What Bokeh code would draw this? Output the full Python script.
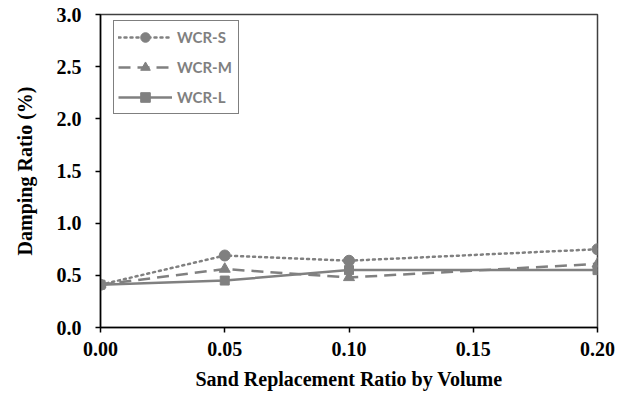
from bokeh.plotting import figure
from bokeh.models import Range1d, FixedTicker, Legend, LegendItem
from bokeh.embed import file_html
from bokeh.resources import INLINE

ratios = [0.00, 0.05, 0.10, 0.20]
wcr_s = [0.41, 0.69, 0.64, 0.75]
wcr_m = [0.41, 0.56, 0.48, 0.61]
wcr_l = [0.41, 0.45, 0.55, 0.55]
x_ticks = [0.00, 0.05, 0.10, 0.15, 0.20]
y_ticks = [0.0, 0.5, 1.0, 1.5, 2.0, 2.5, 3.0]

GRAY = "#808080"
SERIF = "Liberation Serif"

p = figure(width=632, height=394, output_backend="svg", toolbar_location=None,
           x_range=Range1d(0, 0.2), y_range=Range1d(0, 3.0),
           min_border_left=100, min_border_right=35, min_border_top=14, min_border_bottom=67)
p.grid.visible = False
p.outline_line_color = "#404040"
p.outline_line_width = 1.5

rs_l = p.line(ratios, wcr_s, line_color=GRAY, line_width=2.5, line_dash="2 4", line_cap="round")
rs_m = p.scatter(ratios, wcr_s, marker="circle", size=11, fill_color=GRAY, line_color=GRAY)
rm_l = p.line(ratios, wcr_m, line_color=GRAY, line_width=2.5, line_dash="12 7")
rm_m = p.scatter(ratios, wcr_m, marker="triangle", size=11, fill_color=GRAY, line_color=GRAY)
rl_l = p.line(ratios, wcr_l, line_color=GRAY, line_width=2.5)
rl_m = p.scatter(ratios, wcr_l, marker="square", size=9, fill_color=GRAY, line_color=GRAY)

for ax in (p.xaxis[0], p.yaxis[0]):
    ax.axis_line_color = "black"
    ax.axis_line_width = 1.5
    ax.major_tick_line_color = "black"
    ax.major_tick_line_width = 1.5
    ax.major_tick_out = 5
    ax.major_tick_in = 0
    ax.minor_tick_line_color = None
    ax.major_label_text_font = SERIF
    ax.major_label_text_font_style = "bold"
    ax.major_label_text_font_size = "20px"
    ax.major_label_text_color = "black"
    ax.axis_label_text_font = SERIF
    ax.axis_label_text_font_style = "bold"
    ax.axis_label_text_font_size = "20px"
    ax.axis_label_text_color = "black"

p.xaxis[0].ticker = FixedTicker(ticks=x_ticks)
p.yaxis[0].ticker = FixedTicker(ticks=y_ticks)
p.xaxis[0].major_label_overrides = {t: f"{t:.2f}" for t in x_ticks}
p.yaxis[0].major_label_overrides = {t: f"{t:.1f}" for t in y_ticks}
p.xaxis[0].axis_label = "Sand Replacement Ratio by Volume"
p.yaxis[0].axis_label = "Damping Ratio (%)"
p.xaxis[0].major_label_standoff = 9
p.yaxis[0].major_label_standoff = 14
p.xaxis[0].axis_label_standoff = 9
p.yaxis[0].axis_label_standoff = 18

legend = Legend(items=[
    LegendItem(label="WCR-S", renderers=[rs_l, rs_m]),
    LegendItem(label="WCR-M", renderers=[rm_l, rm_m]),
    LegendItem(label="WCR-L", renderers=[rl_l, rl_m]),
], location=(13, 213))
legend.margin = 0
legend.padding = 4
legend.spacing = 6
legend.glyph_width = 54
legend.glyph_height = 24
legend.label_standoff = 5
legend.label_width = 57
legend.label_text_font = "Lato"
legend.label_text_font_style = "bold"
legend.label_text_font_size = "15px"
legend.label_text_color = GRAY
legend.border_line_color = "black"
legend.border_line_width = 1.2
legend.background_fill_alpha = 1
p.add_layout(legend)

open("out.html", "w").write(file_html(p, INLINE))
